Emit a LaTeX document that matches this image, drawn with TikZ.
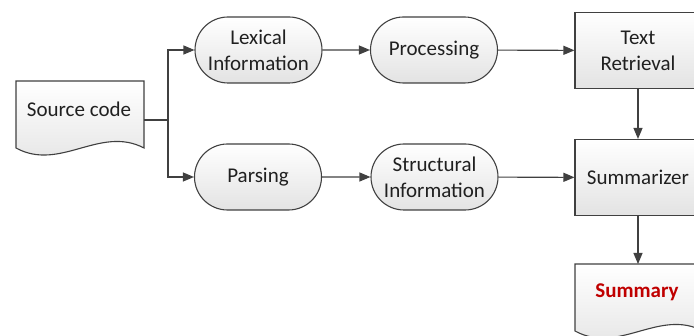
\documentclass[tikz,border=0pt]{standalone}
\usepackage{fontspec}
\setmainfont{Carlito}
\usetikzlibrary{arrows.meta,shapes.misc}
\definecolor{edge}{HTML}{404040}
\definecolor{txt}{HTML}{202020}
\definecolor{sumred}{HTML}{C00000}
\tikzset{
  shade/.style={top color=white,bottom color=black!11,draw=edge,line width=1.1pt},
  pill/.style={shade,rounded rectangle,minimum width=127pt,minimum height=66pt,
    align=center,font=\fontsize{21}{26}\selectfont,text=txt,inner sep=0pt},
  block/.style={shade,rectangle,minimum width=126pt,minimum height=76pt,
    align=center,font=\fontsize{21}{26}\selectfont,text=txt,inner sep=0pt},
  doc/.style={shade},
  label/.style={align=center,font=\fontsize{21}{26}\selectfont,text=txt,inner sep=0pt},
  conn/.style={draw=edge,line width=1.1pt,-{Triangle[length=11pt,width=9pt]}},
  plain/.style={draw=edge,line width=1.1pt},
}
\begin{document}
\begin{tikzpicture}[x=1pt,y=-1pt]
\useasboundingbox (0,0) rectangle (694,336);
\begin{scope}
\clip (0,0) rectangle (694,336);
% source document
\path[doc] (16,81) -- (144,81) -- (144,148)
  .. controls (100,125) and (60,172) .. (16,148) -- cycle;
\node[label] (src) at (79,109) {Source code};
\coordinate (srcout) at (144,120);
\coordinate (split) at (168,120);

% upper row
\node[pill] (lex) at (258.5,50) {Lexical\\Information};
\node[pill] (proc) at (434,50) {Processing};
\node[block] (ret) at (638,50.5) {Text\\Retrieval};

% lower row
\node[pill] (pars) at (258,177) {Parsing};
\node[pill] (struct) at (434.5,177) {Structural\\Information};
\node[block] (summ) at (638,177.5) {Summarizer};

% output document
\path[doc] (575,264) -- (703,264) -- (703,331)
  .. controls (659,308) and (619,355) .. (575,331) -- cycle;
\node[label,font=\fontsize{21}{26}\selectfont\bfseries,text=sumred] (out) at (637,292) {Summary};
\coordinate (outtop) at (638,264);

% connectors
\draw[plain] (srcout) -- (split);
\draw[conn] (split) |- (lex.west);
\draw[conn] (split) |- (pars.west);
\draw[conn] (lex) -- (proc);
\draw[conn] (proc) -- (ret);
\draw[conn] (pars) -- (struct);
\draw[conn] (struct) -- (summ);
\draw[conn] (ret) -- (summ);
\draw[conn] (summ) -- (outtop);
\end{scope}
\end{tikzpicture}
\end{document}
